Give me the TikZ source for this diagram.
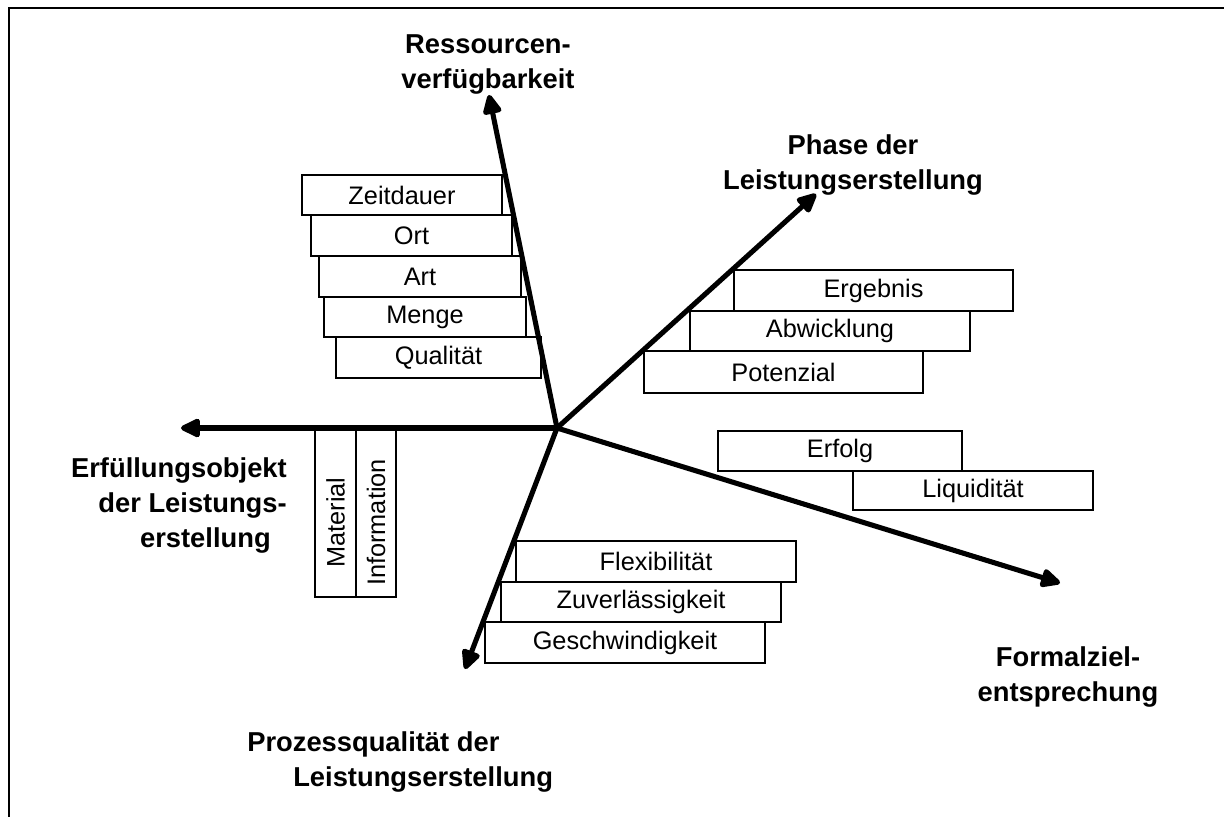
\documentclass[tikz,border=0pt]{standalone}
\usepackage{fontspec}
\setmainfont{Liberation Sans}
\usetikzlibrary{arrows.meta}

\begin{document}
\begin{tikzpicture}[x=0.75pt,y=-0.75pt,
  item/.style={draw, fill=white, line width=0.8pt, inner sep=0pt,
    font=\fontsize{19}{22}\selectfont},
  axis/.style={line width=3.8pt, line cap=round,
    -{Triangle[length=17pt,width=15pt,round]}},
  axlabel/.style={font=\bfseries\fontsize{20.5}{26.25}\selectfont, inner sep=0pt},
  frameline/.style={line width=1.6pt}
]
\useasboundingbox (0,0) rectangle (1224,817);

% open frame: top and left edges
\coordinate (ftr) at (1224,8);
\coordinate (ftl) at (9,8);
\coordinate (fbl) at (9,817);
\draw[frameline] (ftr) -- (ftl) -- (fbl);

% resource availability
\node[item, minimum width=150pt,   minimum height=30pt]    (zeit) at (402,195)   {Zeitdauer};
\node[item, minimum width=150.75pt,minimum height=30.75pt] (ort)  at (411.5,235.5) {Ort};
\node[item, minimum width=151.5pt, minimum height=30.75pt] (art)  at (420,276.5) {Art};
\node[item, minimum width=151.5pt, minimum height=30pt]    (menge) at (425,317)  {Menge};
\node[item, minimum width=153.75pt,minimum height=30.75pt] (qual) at (438.5,357.5) {Qualität};

% phase of service creation
\node[item, minimum width=209.25pt, minimum height=30.75pt] (erg) at (873.5,290.5) {Ergebnis};
\node[item, minimum width=210pt,    minimum height=30pt]    (abw) at (830,331)     {Abwicklung};
\node[item, minimum width=209.25pt, minimum height=31.5pt]  (pot) at (783.5,372)   {Potenzial};

% formal goals
\node[item, minimum width=183pt, minimum height=30pt]    (erf) at (840,451)   {Erfolg};
\node[item, minimum width=180pt, minimum height=29.25pt] (liq) at (973,490.5) {Liquidität};

% process quality
\node[item, minimum width=210pt, minimum height=30.75pt] (flex) at (656,561.5) {Flexibilität};
\node[item, minimum width=210pt, minimum height=30pt]    (zuv)  at (641,602)   {Zuverlässigkeit};
\node[item, minimum width=210pt, minimum height=30.75pt] (gesch) at (625,642.5) {Geschwindigkeit};

% object of fulfilment (vertical boxes, text set a little low)
\node[item, rotate=90, minimum width=126.75pt, minimum height=30.75pt] (mat) at (335.5,512.5) {Material\hspace*{15pt}};
\node[item, rotate=90, minimum width=126.75pt, minimum height=30pt]    (inf) at (376,512.5)   {Information\hspace*{15pt}};

% axes
\coordinate (c) at (557,428);
\coordinate (tres) at (489,95);
\coordinate (tpha) at (816,194);
\coordinate (terf) at (181,428);
\coordinate (tfor) at (1060,583);
\coordinate (tpro) at (465,669);
\draw[axis] (c) -- (tres);
\draw[axis] (c) -- (tpha);
\draw[axis] (c) -- (terf);
\draw[axis] (c) -- (tfor);
\draw[axis] (c) -- (tpro);

% axis labels
\node[axlabel, align=center] (lres) at (488,64) {Ressourcen-\\verfügbarkeit};
\node[axlabel, align=center] (lpha) at (853,165) {Phase der\\Leistungserstellung};
\node[axlabel, align=right, anchor=east] (lerf) at (287,505)
  {Erfüllungsobjekt\\der Leistungs-\hspace*{2pt}\\erstellung\hspace*{12pt}};
\node[axlabel, align=center] (lfor) at (1068,677) {Formalziel-\\entsprechung};
\node[axlabel, align=left, anchor=west] (lpro) at (247,762)
  {Prozessqualität der\\\hspace*{34.5pt}Leistungserstellung};
\end{tikzpicture}
\end{document}
